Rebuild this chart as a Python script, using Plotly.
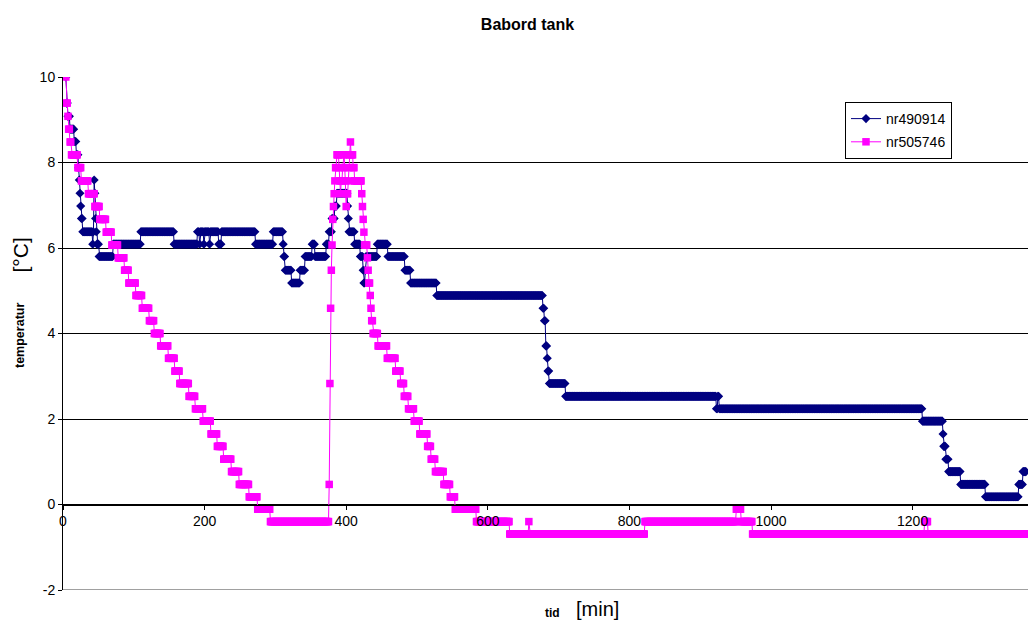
import plotly.graph_objects as go

# ---- data (step series: level starts in minutes and values in degC) ----
blue_name = "nr490914"
blue_start = [4, 5, 7, 10, 16, 19, 22, 23, 24, 25, 26, 28, 42, 43, 44, 45, 46, 47, 48, 51,
              71, 110, 157, 190, 193, 194, 199, 200, 207, 208, 220, 224, 272, 297, 311, 312,
              314, 323, 335, 342, 352, 356, 372, 376, 380, 384, 387, 402, 403, 404, 412, 420,
              424, 425, 427, 428, 444, 459, 483, 491, 528, 678, 680, 682, 684, 685, 687, 710,
              923, 925, 927, 1214, 1243, 1244, 1247, 1251, 1268, 1303, 1350, 1356]
blue_level = [10.0, 9.39, 9.08, 8.78, 8.49, 8.18, 7.88, 7.59, 7.28, 6.98, 6.69, 6.38, 6.09, 6.38,
              7.59, 7.28, 6.69, 6.38, 6.09, 5.80, 6.09, 6.38, 6.09, 6.38, 6.09, 6.38, 6.09, 6.38,
              6.09, 6.38, 6.09, 6.38, 6.09, 6.38, 6.09, 5.80, 5.48, 5.18, 5.48, 5.80, 6.09, 5.80,
              6.09, 6.38, 6.69, 6.98, 7.28, 6.98, 6.69, 6.38, 6.09, 5.80, 5.48, 5.18, 5.48, 5.80,
              6.09, 5.80, 5.48, 5.18, 4.89, 4.59, 4.30, 3.71, 3.42, 3.12, 2.83, 2.53, 2.24, 2.53,
              2.24, 1.95, 1.65, 1.36, 1.06, 0.77, 0.47, 0.18, 0.47, 0.77]
blue_end = 1360

pink_name = "nr505746"
pink_start = [4, 5, 7, 8, 10, 12, 21, 26, 36, 45, 52, 61, 69, 78, 87, 93, 103, 112, 122, 129,
              138, 149, 158, 165, 178, 187, 198, 209, 218, 227, 238, 249, 263, 275, 293, 376,
              377, 378, 379, 380, 381, 382, 383, 384, 385, 387, 390, 391, 392, 393, 395, 396,
              398, 399, 400, 401, 403, 404, 405, 406, 407, 410, 412, 422, 423, 424, 425, 426,
              430, 431, 432, 434, 435, 436, 438, 445, 458, 470, 477, 482, 488, 496, 504, 515,
              520, 526, 538, 547, 554, 584, 631, 658, 659, 822, 951, 958, 974, 1217, 1222]
pink_level = [10.0, 9.39, 9.08, 8.78, 8.48, 8.18, 7.88, 7.57, 7.27, 6.97, 6.67, 6.37, 6.07, 5.77,
              5.48, 5.18, 4.89, 4.59, 4.30, 4.00, 3.71, 3.42, 3.12, 2.83, 2.53, 2.24, 1.95, 1.65,
              1.36, 1.06, 0.77, 0.47, 0.18, -0.11, -0.40, 0.47, 2.83, 4.59, 5.48, 6.07, 6.67,
              6.97, 7.27, 7.57, 7.88, 8.18, 7.88, 7.57, 7.27, 7.57, 7.88, 8.18, 7.88, 7.57, 6.97,
              7.27, 7.57, 7.88, 8.18, 8.48, 8.18, 7.88, 7.57, 7.27, 6.97, 6.67, 6.37, 6.07, 5.77,
              5.48, 5.18, 4.89, 4.59, 4.30, 4.00, 3.71, 3.42, 3.12, 2.83, 2.53, 2.24, 1.95, 1.65,
              1.36, 1.06, 0.77, 0.47, 0.18, -0.11, -0.40, -0.69, -0.40, -0.69, -0.40, -0.11,
              -0.40, -0.69, -0.40, -0.69]
pink_end = 1360

sample_step = 1  # logger interval, minutes

x_ticks = [0, 200, 400, 600, 800, 1000, 1200]
y_ticks = [-2, 0, 2, 4, 6, 8, 10]
y_tick_text = ["-2", "0", "2", "4", "6", "8", "10"]


def decode(starts, levels, end):
    """Run-length decode: each level holds from its start until the next start."""
    assert len(starts) == len(levels)
    xs, ys = [], []
    bounds = starts[1:] + [end + 1]
    for s, e, v in zip(starts, bounds, levels):
        for t in range(s, e, sample_step):
            xs.append(t)
            ys.append(v)
    return xs, ys


bx, by = decode(blue_start, blue_level, blue_end)
px, py = decode(pink_start, pink_level, pink_end)

FONT = "Arial, 'Liberation Sans', sans-serif"
W, H = 1028, 621
L, T, B = 63, 77, 590          # plot-area edges in page pixels
PW, PH = W - L, B - T


def pxx(x):
    return (x - L) / PW


def pxy(y):
    return 1 - (y - T) / PH


fig = go.Figure()
fig.add_trace(go.Scatter(
    x=bx, y=by, name=blue_name, mode="lines+markers", legendgroup="a",
    line=dict(color="#000080", width=1),
    marker=dict(symbol="diamond", size=7, color="#000080"),
))
fig.add_trace(go.Scatter(
    x=px, y=py, name=pink_name, mode="lines+markers", legendgroup="b",
    line=dict(color="#FF00FF", width=1),
    marker=dict(symbol="square", size=7.5, color="#FF00FF"),
))

fig.update_layout(
    width=W, height=H,
    margin=dict(l=L, r=0, t=T, b=H - B),
    paper_bgcolor="white", plot_bgcolor="white",
    font=dict(family=FONT, size=14, color="black"),
    title=dict(text="<b>Babord tank</b>", x=527.5 / W, xanchor="center",
               y=1 - 24 / H, yanchor="middle", font=dict(size=16, family=FONT)),
    showlegend=True,
    legend=dict(x=pxx(845), y=pxy(102), xanchor="left", yanchor="top",
                bgcolor="white", bordercolor="black", borderwidth=1,
                font=dict(size=14, family=FONT), itemwidth=30, tracegroupgap=2),
    xaxis=dict(range=[0, 1363], tickvals=x_ticks, ticks="outside", ticklen=4,
               tickcolor="black", showgrid=False, zeroline=False, showline=True,
               linecolor="black", linewidth=1, anchor="free", position=1 / 6,
               tickfont=dict(size=14, family=FONT)),
    yaxis=dict(range=[-2, 10], tickvals=y_ticks, ticktext=y_tick_text, ticks="outside",
               ticklen=4, tickcolor="black", showgrid=True, gridcolor="#000000", gridwidth=1,
               zeroline=False, showline=True, linecolor="black", linewidth=1,
               tickfont=dict(size=14, family=FONT)),
    shapes=[
        dict(type="line", xref="paper", yref="y", x0=0, x1=1, y0=-2, y1=-2,
             line=dict(color="#808080", width=1.5)),
    ],
    annotations=[
        dict(text="<b>temperatur</b>", xref="paper", yref="paper",
             x=pxx(20), y=pxy(336), textangle=-90, showarrow=False,
             xanchor="center", yanchor="middle", font=dict(size=12.5, family=FONT)),
        dict(text="[°C]", xref="paper", yref="paper",
             x=pxx(20), y=pxy(255.5), textangle=-90, showarrow=False,
             xanchor="center", yanchor="middle", font=dict(size=21, family=FONT)),
        dict(text="<b>tid</b>", xref="paper", yref="paper",
             x=pxx(552), y=pxy(613), showarrow=False,
             xanchor="center", yanchor="middle", font=dict(size=12, family=FONT)),
        dict(text="[min]", xref="paper", yref="paper",
             x=pxx(597), y=pxy(609), showarrow=False,
             xanchor="center", yanchor="middle", font=dict(size=20, family=FONT)),
    ],
)

fig.write_html("out.html", config={"displayModeBar": False},
               post_script="document.body.style.margin='0';document.body.style.overflow='hidden';")
